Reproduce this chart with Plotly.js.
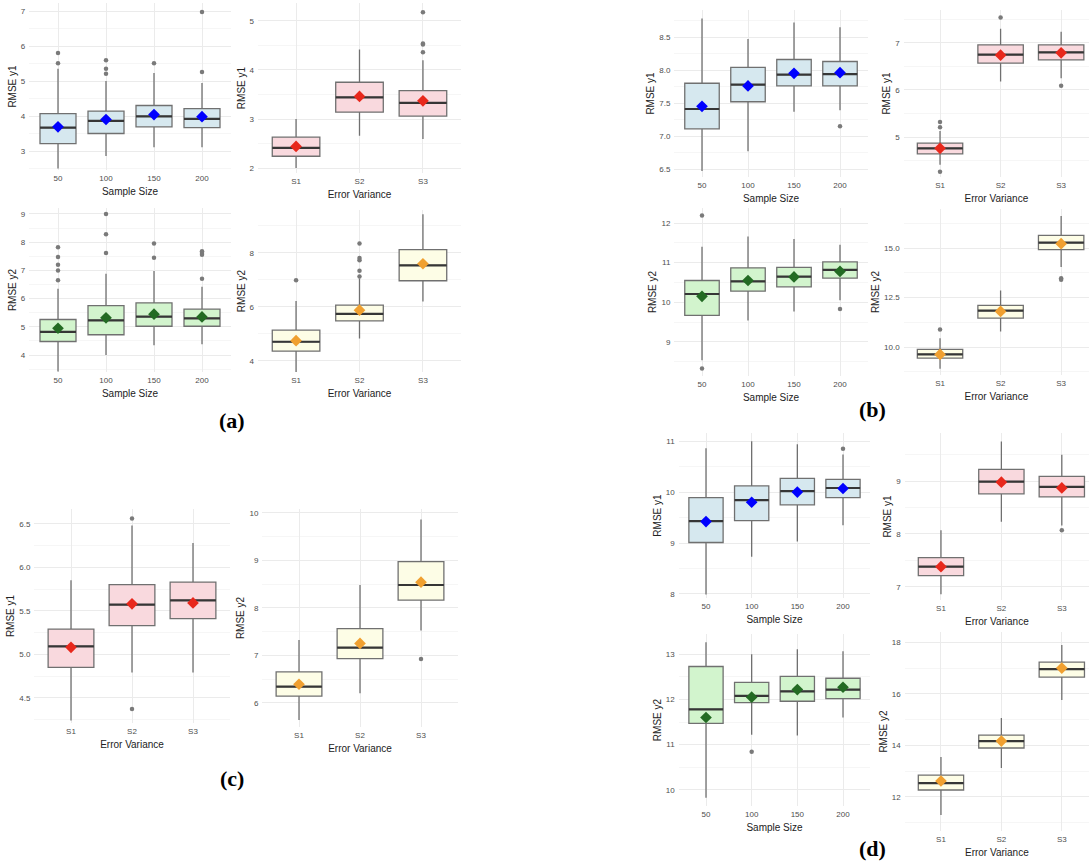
<!DOCTYPE html>
<html><head><meta charset="utf-8">
<script src="https://cdn.plot.ly/plotly-3.0.1.min.js"></script>
<style>html,body{margin:0;padding:0;background:#fff}#chart{width:1089px;height:864px}</style>
</head><body><div id="chart"></div>
<script>
const sampleSizes = ['50','100','150','200'];
const errorVariances = ['S1','S2','S3'];

// (a) RMSE y1 by sample size
const a1Q1 = [3.21, 3.50, 3.69, 3.67];
const a1Median = [3.67, 3.86, 3.99, 3.92];
const a1Q3 = [4.07, 4.14, 4.30, 4.21];
const a1Lower = [2.50, 2.86, 3.11, 3.11];
const a1Upper = [5.35, 5.00, 5.23, 4.94];
const a1Mean = [3.69, 3.90, 4.04, 3.98];
const a1Outliers = [[5.51, 5.80], [5.21, 5.35, 5.59], [5.51], [5.26, 6.97]];
// (a) RMSE y1 by error variance
const a2Q1 = [2.24, 3.14, 3.06];
const a2Median = [2.41, 3.44, 3.33];
const a2Q3 = [2.63, 3.75, 3.58];
const a2Lower = [2.00, 2.66, 2.59];
const a2Upper = [3.00, 4.42, 4.20];
const a2Mean = [2.44, 3.46, 3.37];
const a2Outliers = [[], [], [4.36, 4.52, 4.54, 5.18]];
// (a) RMSE y2 by sample size
const a3Q1 = [4.48, 4.72, 5.02, 5.02];
const a3Median = [4.82, 5.23, 5.36, 5.30];
const a3Q3 = [5.26, 5.75, 5.85, 5.63];
const a3Lower = [3.42, 4.00, 4.35, 4.38];
const a3Upper = [6.35, 6.88, 6.98, 6.42];
const a3Mean = [4.95, 5.32, 5.45, 5.35];
const a3Outliers = [[6.65, 7.00, 7.20, 7.47, 7.82], [7.62, 8.28, 9.00], [7.45, 7.95], [6.70, 7.55, 7.62, 7.68]];
// (a) RMSE y2 by error variance
const a4Q1 = [4.36, 5.48, 6.97];
const a4Median = [4.71, 5.74, 7.54];
const a4Q3 = [5.14, 6.07, 8.12];
const a4Lower = [3.59, 4.83, 6.20];
const a4Upper = [6.22, 7.05, 9.43];
const a4Mean = [4.75, 5.88, 7.60];
const a4Outliers = [[6.99], [7.13, 7.34, 7.73, 7.81, 8.35], []];

// (b) RMSE y1 by sample size
const b1Q1 = [7.11, 7.52, 7.76, 7.76];
const b1Median = [7.41, 7.78, 7.93, 7.94];
const b1Q3 = [7.80, 8.04, 8.16, 8.13];
const b1Lower = [6.47, 6.77, 7.37, 7.39];
const b1Upper = [8.78, 8.47, 8.72, 8.65];
const b1Mean = [7.45, 7.76, 7.95, 7.96];
const b1Outliers = [[], [], [], [7.15]];
// (b) RMSE y1 by error variance
const b2Q1 = [4.64, 6.57, 6.64];
const b2Median = [4.76, 6.75, 6.80];
const b2Q3 = [4.87, 6.96, 6.96];
const b2Lower = [4.41, 6.18, 6.25];
const b2Upper = [5.13, 7.30, 7.24];
const b2Mean = [4.76, 6.74, 6.79];
const b2Outliers = [[4.26, 5.21, 5.32], [7.54], [6.09]];
// (b) RMSE y2 by sample size
const b3Q1 = [9.67, 10.28, 10.39, 10.61];
const b3Median = [10.21, 10.53, 10.65, 10.82];
const b3Q3 = [10.55, 10.87, 10.88, 11.02];
const b3Lower = [8.54, 9.54, 9.77, 10.05];
const b3Upper = [11.40, 11.66, 11.60, 11.45];
const b3Mean = [10.15, 10.55, 10.64, 10.78];
const b3Outliers = [[8.33, 12.19], [], [], [9.83]];
// (b) RMSE y2 by error variance
const b4Q1 = [9.44, 11.46, 14.92];
const b4Median = [9.63, 11.84, 15.27];
const b4Q3 = [9.88, 12.10, 15.64];
const b4Lower = [8.91, 10.79, 14.04];
const b4Upper = [10.45, 12.86, 16.62];
const b4Mean = [9.63, 11.80, 15.22];
const b4Outliers = [[10.89], [], [13.40, 13.48]];

// (c) RMSE y1 by error variance
const c1Q1 = [4.85, 5.33, 5.41];
const c1Median = [5.09, 5.57, 5.62];
const c1Q3 = [5.29, 5.80, 5.83];
const c1Lower = [4.24, 4.79, 4.79];
const c1Upper = [5.85, 6.48, 6.28];
const c1Mean = [5.08, 5.58, 5.59];
const c1Outliers = [[], [4.37, 6.56], []];
// (c) RMSE y2 by error variance
const c2Q1 = [6.14, 6.93, 8.16];
const c2Median = [6.34, 7.16, 8.48];
const c2Q3 = [6.65, 7.56, 8.97];
const c2Lower = [5.64, 6.20, 7.52];
const c2Upper = [7.32, 8.48, 9.86];
const c2Mean = [6.39, 7.25, 8.54];
const c2Outliers = [[], [], [6.92]];

// (d) RMSE y1 by sample size
const d1Q1 = [9.01, 9.44, 9.75, 9.89];
const d1Median = [9.43, 9.84, 10.02, 10.08];
const d1Q3 = [9.89, 10.12, 10.27, 10.25];
const d1Lower = [7.99, 8.73, 9.03, 9.35];
const d1Upper = [10.86, 11.00, 10.94, 10.74];
const d1Mean = [9.42, 9.80, 10.00, 10.07];
const d1Outliers = [[], [], [], [10.85]];
// (d) RMSE y1 by error variance
const d2Q1 = [7.21, 8.76, 8.70];
const d2Median = [7.38, 8.99, 8.89];
const d2Q3 = [7.55, 9.22, 9.09];
const d2Lower = [6.86, 8.23, 8.16];
const d2Upper = [8.07, 9.75, 9.50];
const d2Mean = [7.38, 8.98, 8.87];
const d2Outliers = [[], [], [8.07]];
// (d) RMSE y2 by sample size
const d3Q1 = [11.47, 11.93, 11.96, 12.02];
const d3Median = [11.78, 12.08, 12.18, 12.22];
const d3Q3 = [12.73, 12.38, 12.51, 12.47];
const d3Lower = [9.82, 11.22, 11.20, 11.60];
const d3Upper = [13.27, 13.00, 13.11, 13.07];
const d3Mean = [11.60, 12.05, 12.22, 12.27];
const d3Outliers = [[], [10.84], [], []];
// (d) RMSE y2 by error variance
const d4Q1 = [12.27, 13.90, 16.65];
const d4Median = [12.54, 14.17, 16.96];
const d4Q3 = [12.85, 14.40, 17.23];
const d4Lower = [11.30, 13.12, 15.76];
const d4Upper = [13.55, 15.06, 17.90];
const d4Mean = [12.62, 14.17, 17.00];
const d4Outliers = [[], [], []];

const W = 1089, H = 864;
const BLUE = {fill:'#d6e8ef', mean:'#0000ff'};
const PINK = {fill:'#f9d9de', mean:'#e8281c'};
const GREEN = {fill:'#d2f4cd', mean:'#236b23'};
const YELLOW = {fill:'#fdfde6', mean:'#f0a030'};

const panels = [
  {cats:sampleSizes, s:[a1Q1,a1Median,a1Q3,a1Lower,a1Upper,a1Mean,a1Outliers], c:BLUE, box:[29.2,230.8,3,170], yr:[2.457,7.229], dt:1, fmt:'', xt:'Sample Size', yt:'RMSE y1'},
  {cats:errorVariances, s:[a2Q1,a2Median,a2Q3,a2Lower,a2Upper,a2Mean,a2Outliers], c:PINK, box:[258,461,3,173], yr:[1.898,5.367], dt:1, fmt:'', xt:'Error Variance', yt:'RMSE y1'},
  {cats:sampleSizes, s:[a3Q1,a3Median,a3Q3,a3Lower,a3Upper,a3Mean,a3Outliers], c:GREEN, box:[29.2,230.8,208,372], yr:[3.40,9.21], dt:1, fmt:'', xt:'Sample Size', yt:'RMSE y2'},
  {cats:errorVariances, s:[a4Q1,a4Median,a4Q3,a4Lower,a4Upper,a4Mean,a4Outliers], c:YELLOW, box:[258,461,210,372], yr:[3.59,9.59], dt:2, fmt:'', xt:'Error Variance', yt:'RMSE y2'},
  {cats:sampleSizes, s:[b1Q1,b1Median,b1Q3,b1Lower,b1Upper,b1Mean,b1Outliers], c:BLUE, box:[674.4,867.6,10,177], yr:[6.38,8.91], dt:0.5, fmt:'.1f', xt:'Sample Size', yt:'RMSE y1'},
  {cats:errorVariances, s:[b2Q1,b2Median,b2Q3,b2Lower,b2Upper,b2Mean,b2Outliers], c:PINK, box:[903.7,1089,10,177], yr:[4.15,7.70], dt:1, fmt:'', xt:'Error Variance', yt:'RMSE y1', xmax:2.46},
  {cats:sampleSizes, s:[b3Q1,b3Median,b3Q3,b3Lower,b3Upper,b3Mean,b3Outliers], c:GREEN, box:[674.4,867.6,208,376], yr:[8.14,12.38], dt:1, fmt:'', xt:'Sample Size', yt:'RMSE y2'},
  {cats:errorVariances, s:[b4Q1,b4Median,b4Q3,b4Lower,b4Upper,b4Mean,b4Outliers], c:YELLOW, box:[903.7,1089,209,375], yr:[8.59,16.97], dt:2.5, fmt:'.1f', xt:'Error Variance', yt:'RMSE y2', xmax:2.46},
  {cats:errorVariances, s:[c1Q1,c1Median,c1Q3,c1Lower,c1Upper,c1Mean,c1Outliers], c:PINK, box:[34.4,229.6,509,723], yr:[4.21,6.67], dt:0.5, fmt:'.1f', xt:'Error Variance', yt:'RMSE y1'},
  {cats:errorVariances, s:[c2Q1,c2Median,c2Q3,c2Lower,c2Upper,c2Mean,c2Outliers], c:YELLOW, box:[262.4,457.6,509,727], yr:[5.49,10.08], dt:1, fmt:'', xt:'Error Variance', yt:'RMSE y2'},
  {cats:sampleSizes, s:[d1Q1,d1Median,d1Q3,d1Lower,d1Upper,d1Mean,d1Outliers], c:BLUE, box:[678.6,870.4,433,598], yr:[7.92,11.16], dt:1, fmt:'', xt:'Sample Size', yt:'RMSE y1'},
  {cats:errorVariances, s:[d2Q1,d2Median,d2Q3,d2Lower,d2Upper,d2Mean,d2Outliers], c:PINK, box:[904.7,1089,433,600], yr:[6.75,9.91], dt:1, fmt:'', xt:'Error Variance', yt:'RMSE y1', xmax:2.45},
  {cats:sampleSizes, s:[d3Q1,d3Median,d3Q3,d3Lower,d3Upper,d3Mean,d3Outliers], c:GREEN, box:[678.6,870.4,634,806], yr:[9.64,13.45], dt:1, fmt:'', xt:'Sample Size', yt:'RMSE y2'},
  {cats:errorVariances, s:[d4Q1,d4Median,d4Q3,d4Lower,d4Upper,d4Mean,d4Outliers], c:YELLOW, box:[904.7,1089,632,831], yr:[10.68,18.4], dt:2, fmt:'', xt:'Error Variance', yt:'RMSE y2', xmax:2.45}
];

const BOXW = 0.75;
const traces = [];
const layout = {
  width: W, height: H, margin:{l:0,r:0,t:0,b:0},
  paper_bgcolor:'#fff', plot_bgcolor:'#fff', showlegend:false,
  font:{family:'Liberation Sans, Arial, sans-serif', color:'#4d4d4d', size:8},
  annotations:[]
};

panels.forEach((p, i) => {
  const k = i + 1;
  const xa = 'x' + (k === 1 ? '' : k), ya = 'y' + (k === 1 ? '' : k);
  const [q1, med, q3, lo, hi, mean, outs] = p.s;
  const idx = p.cats.map((_, j) => j);
  traces.push({type:'box', x: idx, q1: q1, median: med, q3: q3, lowerfence: lo, upperfence: hi,
    width: BOXW, fillcolor: p.c.fill, line:{color:'#707070', width:1.3}, whiskerwidth:0,
    boxpoints:false, xaxis: xa, yaxis: ya, hoverinfo:'skip'});
  const mx = [], my = [];
  idx.forEach(j => { mx.push(j - BOXW/2, j + BOXW/2, null); my.push(med[j], med[j], null); });
  traces.push({type:'scatter', mode:'lines', x: mx, y: my, line:{color:'#363636', width:2.2}, xaxis: xa, yaxis: ya, hoverinfo:'skip'});
  const ox = [], oy = [];
  outs.forEach((arr, j) => arr.forEach(v => { ox.push(j); oy.push(v); }));
  traces.push({type:'scatter', mode:'markers', x: ox, y: oy, marker:{color:'#7a7a7a', size:4.5}, xaxis: xa, yaxis: ya, hoverinfo:'skip'});
  traces.push({type:'scatter', mode:'markers', x: idx, y: mean, marker:{color: p.c.mean, size:9, symbol:'diamond', line:{width:0}}, xaxis: xa, yaxis: ya, hoverinfo:'skip'});

  const [x0, x1, top, bot] = p.box;
  const xmax = p.xmax !== undefined ? p.xmax : p.cats.length - 0.4;
  layout['xaxis' + (k === 1 ? '' : k)] = {
    domain:[x0 / W, x1 / W], anchor: ya, range:[-0.6, xmax], tickmode:'array', tickvals: idx, ticktext: p.cats,
    showgrid:true, gridcolor:'#ebebeb', gridwidth:1, zeroline:false, showline:false, ticks:'',
    ticklabelstandoff: 2, tickfont:{size:8, color:'#4d4d4d'},
    title:{text: p.xt, font:{size:10, color:'#222'}, standoff: 5}, fixedrange:true
  };
  layout['yaxis' + (k === 1 ? '' : k)] = {
    domain:[1 - bot / H, 1 - top / H], anchor: xa, range: p.yr, tickmode:'linear', tick0:0, dtick: p.dt,
    tickformat: p.fmt, showgrid:true, gridcolor:'#ebebeb', gridwidth:1, zeroline:false, showline:false, ticks:'',
    ticklabelstandoff: 3, tickfont:{size:8, color:'#4d4d4d'},
    minor:{tick0:0, dtick: p.dt / 2, showgrid:true, gridcolor:'#f4f4f4', gridwidth:0.8, ticks:''},
    title:{text: p.yt, font:{size:10, color:'#222'}, standoff: 2}, fixedrange:true
  };
});

const labels = [['(a)', 232, 420], ['(b)', 872, 410], ['(c)', 232, 778], ['(d)', 872, 848]];
labels.forEach(([t, x, y]) => layout.annotations.push({
  text: '<b>' + t + '</b>', xref:'paper', yref:'paper', x: x / W, y: 1 - y / H, xanchor:'center', yanchor:'middle',
  showarrow:false, font:{family:'Liberation Serif, Times New Roman, serif', size:22, color:'#000'}
}));

Plotly.newPlot('chart', traces, layout, {staticPlot:true, displayModeBar:false});
</script></body></html>
